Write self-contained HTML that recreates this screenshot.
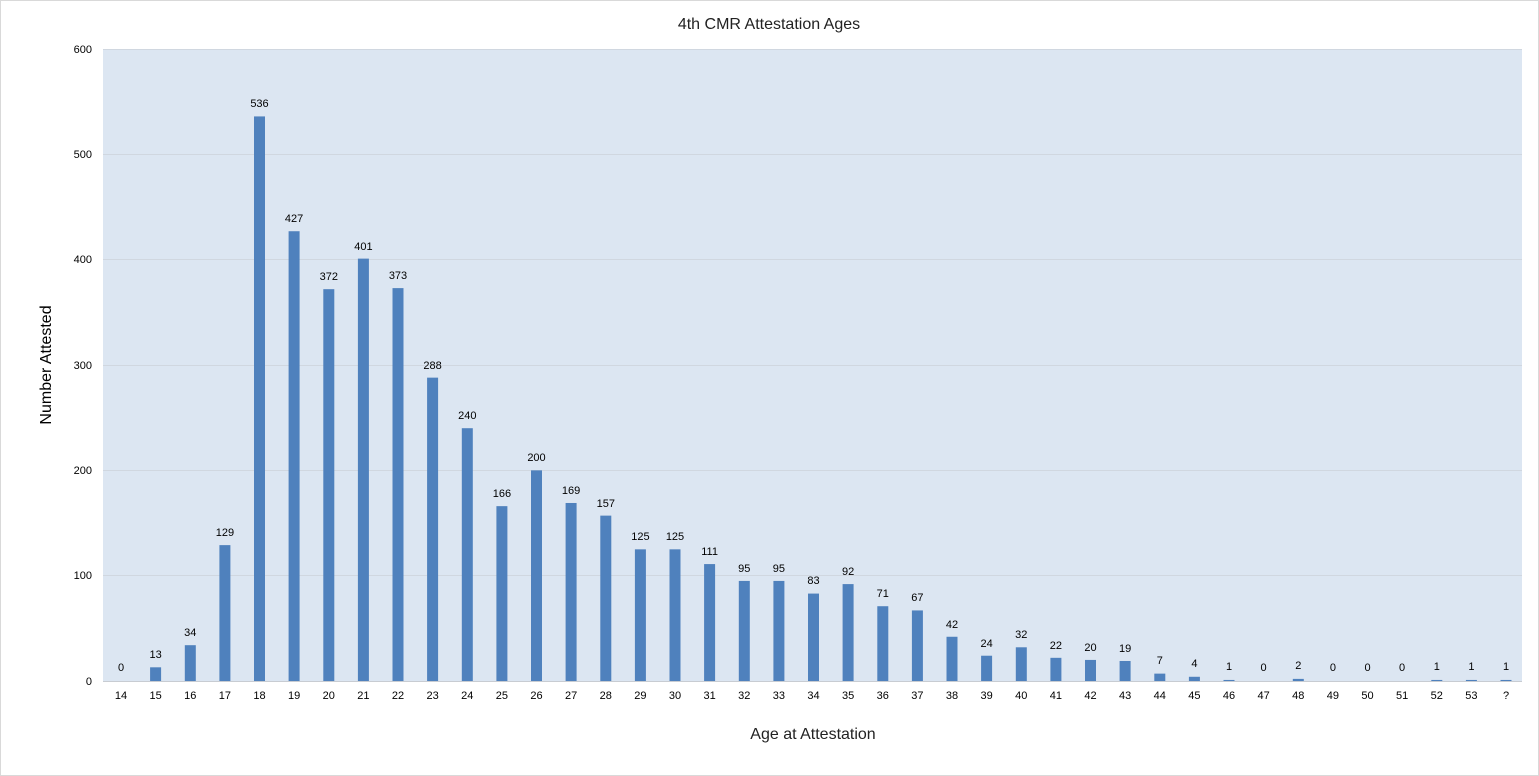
<!DOCTYPE html>
<html><head><meta charset="utf-8"><style>
html,body{margin:0;padding:0;background:#fff}
svg{display:block;font-family:"Liberation Sans",sans-serif}
</style></head><body>
<svg width="1539" height="776" viewBox="0 0 1539 776">
<rect x="0.5" y="0.5" width="1538" height="775" fill="#fff" stroke="#d9d9d9"/>
<rect x="103" y="49" width="1419" height="632" fill="#dce6f2"/>
<g stroke="#d0d7e0" stroke-width="1">
<line x1="103" x2="1522" y1="49.5" y2="49.5"/>
<line x1="103" x2="1522" y1="154.5" y2="154.5"/>
<line x1="103" x2="1522" y1="259.5" y2="259.5"/>
<line x1="103" x2="1522" y1="365.5" y2="365.5"/>
<line x1="103" x2="1522" y1="470.5" y2="470.5"/>
<line x1="103" x2="1522" y1="575.5" y2="575.5"/>
<line x1="103" x2="1522" y1="681.5" y2="681.5" stroke="#c8ccd2"/>
</g>
<text x="769" y="29" font-size="16" text-anchor="middle" fill="#222">4th CMR Attestation Ages</text>
<g font-size="11" text-anchor="end" fill="#000">
<text x="92" y="53">600</text><text x="92" y="158">500</text><text x="92" y="263">400</text>
<text x="92" y="369">300</text><text x="92" y="474">200</text><text x="92" y="579">100</text><text x="92" y="685">0</text>
</g>
<text transform="translate(51,365) rotate(-90)" font-size="16" text-anchor="middle" fill="#000">Number Attested</text>
<text x="813" y="739" font-size="16" text-anchor="middle" fill="#222">Age at Attestation</text>
<g transform="translate(0,681) scale(1,-1.05333)" fill="#4f81bd">
<rect x="150.1" y="0" width="11" height="13"/><rect x="184.8" y="0" width="11" height="34"/>
<rect x="219.4" y="0" width="11" height="129"/><rect x="254" y="0" width="11" height="536"/>
<rect x="288.6" y="0" width="11" height="427"/><rect x="323.3" y="0" width="11" height="372"/>
<rect x="357.9" y="0" width="11" height="401"/><rect x="392.5" y="0" width="11" height="373"/>
<rect x="427.1" y="0" width="11" height="288"/><rect x="461.8" y="0" width="11" height="240"/>
<rect x="496.4" y="0" width="11" height="166"/><rect x="531" y="0" width="11" height="200"/>
<rect x="565.6" y="0" width="11" height="169"/><rect x="600.3" y="0" width="11" height="157"/>
<rect x="634.9" y="0" width="11" height="125"/><rect x="669.5" y="0" width="11" height="125"/>
<rect x="704.1" y="0" width="11" height="111"/><rect x="738.8" y="0" width="11" height="95"/>
<rect x="773.4" y="0" width="11" height="95"/><rect x="808" y="0" width="11" height="83"/>
<rect x="842.6" y="0" width="11" height="92"/><rect x="877.3" y="0" width="11" height="71"/>
<rect x="911.9" y="0" width="11" height="67"/><rect x="946.5" y="0" width="11" height="42"/>
<rect x="981.1" y="0" width="11" height="24"/><rect x="1015.8" y="0" width="11" height="32"/>
<rect x="1050.4" y="0" width="11" height="22"/><rect x="1085" y="0" width="11" height="20"/>
<rect x="1119.6" y="0" width="11" height="19"/><rect x="1154.3" y="0" width="11" height="7"/>
<rect x="1188.9" y="0" width="11" height="4"/><rect x="1223.5" y="0" width="11" height="1"/>
<rect x="1292.8" y="0" width="11" height="2"/><rect x="1431.3" y="0" width="11" height="1"/>
<rect x="1465.9" y="0" width="11" height="1"/><rect x="1500.5" y="0" width="11" height="1"/>
</g>
<g font-size="11" text-anchor="middle" fill="#000">
<text x="121" y="671">0</text><text x="155.6" y="658">13</text><text x="190.3" y="636">34</text>
<text x="224.9" y="536">129</text><text x="259.5" y="107">536</text><text x="294.1" y="222">427</text>
<text x="328.8" y="280">372</text><text x="363.4" y="250">401</text><text x="398" y="279">373</text>
<text x="432.6" y="369">288</text><text x="467.3" y="419">240</text><text x="501.9" y="497">166</text>
<text x="536.5" y="461">200</text><text x="571.1" y="494">169</text><text x="605.8" y="507">157</text>
<text x="640.4" y="540">125</text><text x="675" y="540">125</text><text x="709.6" y="555">111</text>
<text x="744.3" y="572">95</text><text x="778.9" y="572">95</text><text x="813.5" y="584">83</text>
<text x="848.1" y="575">92</text><text x="882.8" y="597">71</text><text x="917.4" y="601">67</text>
<text x="952" y="628">42</text><text x="986.6" y="647">24</text><text x="1021.3" y="638">32</text>
<text x="1055.9" y="649">22</text><text x="1090.5" y="651">20</text><text x="1125.1" y="652">19</text>
<text x="1159.8" y="664">7</text><text x="1194.4" y="667">4</text><text x="1229" y="670">1</text>
<text x="1263.6" y="671">0</text><text x="1298.3" y="669">2</text><text x="1332.9" y="671">0</text>
<text x="1367.5" y="671">0</text><text x="1402.1" y="671">0</text><text x="1436.8" y="670">1</text>
<text x="1471.4" y="670">1</text><text x="1506" y="670">1</text>
</g>
<g font-size="11" text-anchor="middle" fill="#000">
<text x="121" y="699">14</text><text x="155.6" y="699">15</text><text x="190.3" y="699">16</text>
<text x="224.9" y="699">17</text><text x="259.5" y="699">18</text><text x="294.1" y="699">19</text>
<text x="328.8" y="699">20</text><text x="363.4" y="699">21</text><text x="398" y="699">22</text>
<text x="432.6" y="699">23</text><text x="467.3" y="699">24</text><text x="501.9" y="699">25</text>
<text x="536.5" y="699">26</text><text x="571.1" y="699">27</text><text x="605.8" y="699">28</text>
<text x="640.4" y="699">29</text><text x="675" y="699">30</text><text x="709.6" y="699">31</text>
<text x="744.3" y="699">32</text><text x="778.9" y="699">33</text><text x="813.5" y="699">34</text>
<text x="848.1" y="699">35</text><text x="882.8" y="699">36</text><text x="917.4" y="699">37</text>
<text x="952" y="699">38</text><text x="986.6" y="699">39</text><text x="1021.3" y="699">40</text>
<text x="1055.9" y="699">41</text><text x="1090.5" y="699">42</text><text x="1125.1" y="699">43</text>
<text x="1159.8" y="699">44</text><text x="1194.4" y="699">45</text><text x="1229" y="699">46</text>
<text x="1263.6" y="699">47</text><text x="1298.3" y="699">48</text><text x="1332.9" y="699">49</text>
<text x="1367.5" y="699">50</text><text x="1402.1" y="699">51</text><text x="1436.8" y="699">52</text>
<text x="1471.4" y="699">53</text><text x="1506" y="699">?</text>
</g>
</svg>
</body></html>
